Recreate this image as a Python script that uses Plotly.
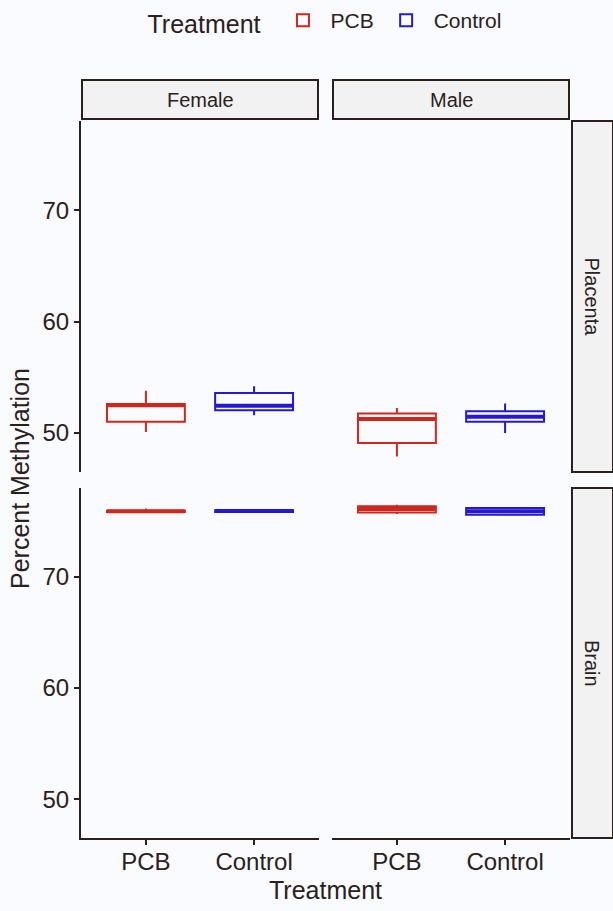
import plotly.graph_objects as go

# ---- data ----
sexes = ["Female", "Male"]
tissues = ["Placenta", "Brain"]
treatments = ["PCB", "Control"]
colors = {"PCB": "#CF271E", "Control": "#2618D2"}

# box summary stats per tissue -> sex -> treatment: [lower, q1, median, q3, upper]
stats = {
    "Placenta": {
        "Female": {"PCB": [50.1, 51.0, 52.5, 52.6, 53.8],
                   "Control": [51.6, 52.05, 52.45, 53.6, 54.2]},
        "Male": {"PCB": [47.9, 49.1, 51.25, 51.75, 52.25],
                 "Control": [50.0, 51.0, 51.45, 51.95, 52.65]},
    },
    "Brain": {
        "Female": {"PCB": [75.8, 75.85, 75.9, 75.95, 76.15],
                   "Control": [75.75, 75.85, 75.92, 76.0, 76.05]},
        "Male": {"PCB": [75.65, 75.8, 76.1, 76.35, 76.5],
                 "Control": [75.5, 75.6, 75.9, 76.2, 76.25]},
    },
}
y_ticks = [50, 60, 70]
y_range = [46.5, 78]

W, H = 613, 911
BG = "#F9FBFE"
INK = "#2B201C"
STRIP = "#F2F2F2"
FONT = "Liberation Sans"
TS = 24

col_px = {"Female": (81, 319), "Male": (332, 570)}
row_px = {"Placenta": (121, 472), "Brain": (488, 838)}

def xdom(sex):
    a, b = col_px[sex]
    return [a / W, b / W]

def ydom(t):
    a, b = row_px[t]
    return [1 - b / H, 1 - a / H]

fig = go.Figure()
layout = {}
box_w = 0.72
shown = set()
idx = 0
for t in tissues:
    for s in sexes:
        idx += 1
        xa = "x" if idx == 1 else f"x{idx}"
        ya = "y" if idx == 1 else f"y{idx}"
        for i, tr in enumerate(treatments):
            lo, q1, md, q3, hi = stats[t][s][tr]
            pos = i + 1
            fig.add_trace(go.Box(
                x=[pos], lowerfence=[lo], q1=[q1], median=[md], q3=[q3], upperfence=[hi],
                width=box_w, whiskerwidth=0, fillcolor="rgba(0,0,0,0)",
                line=dict(color=colors[tr], width=2),
                name=tr, legendgroup=tr, showlegend=tr not in shown,
                xaxis=xa, yaxis=ya, hoverinfo="skip", boxpoints=False,
            ))
            shown.add(tr)
            fig.add_trace(go.Scatter(
                x=[pos - box_w / 2, pos + box_w / 2], y=[md, md], mode="lines",
                line=dict(color=colors[tr], width=4), showlegend=False,
                xaxis=xa, yaxis=ya, hoverinfo="skip",
            ))
        bottom = t == "Brain"
        left = s == "Female"
        layout["xaxis" if idx == 1 else f"xaxis{idx}"] = dict(
            domain=xdom(s), anchor=ya, range=[0.4, 2.6],
            tickvals=[1, 2], ticktext=treatments if bottom else ["", ""],
            showticklabels=bottom, ticks="outside" if bottom else "",
            ticklen=5, tickwidth=2, tickcolor=INK, ticklabelstandoff=-4,
            showline=bottom, linecolor=INK, linewidth=2,
            showgrid=False, zeroline=False,
            tickfont=dict(size=TS, color=INK, family=FONT),
        )
        layout["yaxis" if idx == 1 else f"yaxis{idx}"] = dict(
            domain=ydom(t), anchor=xa, range=y_range,
            tickvals=y_ticks, showticklabels=left,
            ticks="outside" if left else "", ticklen=5, tickwidth=2, tickcolor=INK,
            showline=left, linecolor=INK, linewidth=2,
            showgrid=False, zeroline=False,
            tickfont=dict(size=TS, color=INK, family=FONT),
        )

shapes = []
annotations = []
# column strips
for s in sexes:
    a, b = col_px[s]
    shapes.append(dict(type="rect", xref="paper", yref="paper",
                       x0=(a + 1) / W, x1=(b - 1) / W, y0=1 - 119 / H, y1=1 - 80 / H,
                       fillcolor=STRIP, line=dict(color=INK, width=2)))
    annotations.append(dict(text=s, xref="paper", yref="paper", x=(a + b) / 2 / W,
                            y=1 - 99.5 / H, showarrow=False, xanchor="center", yanchor="middle",
                            font=dict(size=20, color=INK, family=FONT)))
# row strips
for t in tissues:
    a, b = row_px[t]
    shapes.append(dict(type="rect", xref="paper", yref="paper",
                       x0=572 / W, x1=613 / W, y0=1 - b / H, y1=1 - a / H,
                       fillcolor=STRIP, line=dict(color=INK, width=2)))
    annotations.append(dict(text=t, xref="paper", yref="paper", x=592 / W,
                            y=1 - (a + b) / 2 / H, showarrow=False, textangle=90,
                            xanchor="center", yanchor="middle",
                            font=dict(size=20, color=INK, family=FONT)))
# axis titles
annotations.append(dict(text="Percent Methylation", xref="paper", yref="paper",
                        x=20 / W, y=1 - 479 / H, showarrow=False, textangle=-90,
                        xanchor="center", yanchor="middle",
                        font=dict(size=25, color=INK, family=FONT)))
annotations.append(dict(text="Treatment", xref="paper", yref="paper",
                        x=326 / W, y=1 - 890 / H, showarrow=False,
                        xanchor="center", yanchor="middle",
                        font=dict(size=25, color=INK, family=FONT)))

fig.update_layout(
    width=W, height=H, margin=dict(l=0, r=0, t=0, b=0),
    paper_bgcolor=BG, plot_bgcolor=BG,
    showlegend=True, boxmode="overlay",
    legend=dict(orientation="h", x=326 / W, xanchor="center", y=1 - 0 / H, yanchor="top",
                title=dict(text="Treatment ", font=dict(size=25, color=INK, family=FONT)),
                font=dict(size=21, color=INK, family=FONT), bgcolor="rgba(0,0,0,0)",
                itemwidth=45),
    shapes=shapes, annotations=annotations,
    **layout,
)
fig.write_html("out.html")
